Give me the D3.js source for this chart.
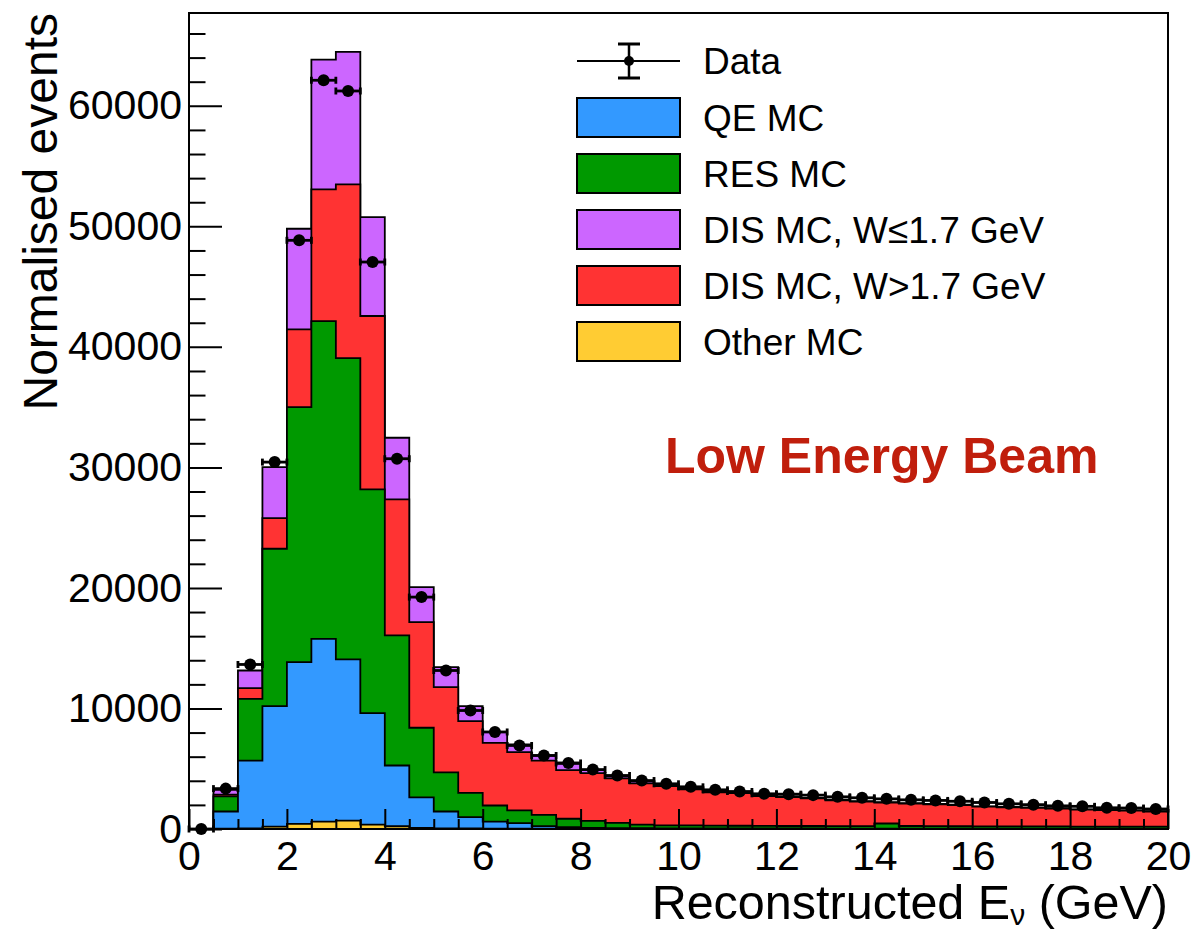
<!DOCTYPE html>
<html>
<head>
<meta charset="utf-8">
<script src="https://cdn.jsdelivr.net/npm/d3@7"></script>
<style>
  html, body { margin: 0; padding: 0; background: #fff; }
  svg { display: block; font-family: "Liberation Sans", Arial, Helvetica, sans-serif; }
</style>
</head>
<body>
<svg id="chart" width="1198" height="933"></svg>
<script>
// ---- Data (bins of 0.5 GeV, lower edges) ----
const binLow = [0,0.5,1,1.5,2,2.5,3,3.5,4,4.5,5,5.5,6,6.5,7,7.5,8,8.5,9,9.5,
                10,10.5,11,11.5,12,12.5,13,13.5,14,14.5,15,15.5,16,16.5,17,17.5,18,18.5,19,19.5];
const binWidth = 0.5;

// Stack components (bottom -> top): Other, QE, RES, DIS W>1.7, DIS W<=1.7
const otherMC = [0,30,50,200,430,620,700,370,230,100,60,40,30,20,15,10,10,10,5,5,
                 5,5,5,5,5,5,5,5,5,5,5,5,5,5,5,5,5,5,5,5];
const qeMC    = [0,1420,5630,9990,13410,15160,13370,9240,5040,2520,1390,940,590,460,215,140,90,70,65,55,
                 50,45,40,40,35,35,30,30,30,30,25,25,25,25,20,20,20,20,20,20];
const resMC   = [0,1250,5120,13060,21160,26360,25000,18560,10790,5780,3240,2020,1330,1060,950,700,580,430,300,240,
                 245,230,225,215,210,210,205,205,420,215,210,200,190,190,185,185,175,175,165,165];
const disHighMC = [0,150,890,2540,6460,10930,14420,14390,11280,8760,7080,5950,5200,4830,4500,4030,3960,3690,3410,3260,
                   3000,2770,2710,2460,2390,2290,2140,2030,1735,1850,1810,1750,1630,1580,1550,1490,1400,1360,1330,1260];
const disLowMC  = [0,400,1460,4240,8340,10760,10980,8210,5120,2910,1660,1240,880,640,420,520,260,170,170,90,
                   90,100,80,70,60,50,50,40,40,40,40,30,30,30,30,30,30,30,30,30];
const dataVals  = [0,3350,13650,30440,48840,62120,61230,47040,30720,19240,13150,9830,8050,6930,6100,5480,4930,4440,4020,3750,
                   3500,3250,3110,2920,2890,2810,2670,2590,2500,2420,2370,2300,2200,2090,2020,1920,1880,1760,1740,1660];

const yMajorTicks = [0,10000,20000,30000,40000,50000,60000];
const xMajorTicks = [0,2,4,6,8,10,12,14,16,18,20];

const seriesNames = ["Other MC","QE MC","RES MC","DIS MC, W>1.7 GeV","DIS MC, W\u22641.7 GeV"];
const seriesVals  = [otherMC, qeMC, resMC, disHighMC, disLowMC];
const seriesColors = ["#FFCC33","#3399FF","#009900","#FF3333","#CC66FF"];

const legendOrder = ["QE MC","RES MC","DIS MC, W\u22641.7 GeV","DIS MC, W>1.7 GeV","Other MC"];

// ---- Layout ----
const svg = d3.select("#chart");
const L = 189, R = 1168, T = 13, B = 829;
const x = d3.scaleLinear().domain([0, 20]).range([L, R]);
const y = d3.scaleLinear().domain([0, 67700]).range([B, T]);

// ---- Stack (cumulative) ----
const cum = [];
seriesVals.forEach((vals, k) => {
  cum.push(vals.map((v, i) => v + (k > 0 ? cum[k-1][i] : 0)));
});

const area = d3.area()
  .x(d => x(d[0]))
  .y0(y(0))
  .y1(d => y(d[1]));

const gHist = svg.append("g");
for (let k = cum.length - 1; k >= 0; k--) {
  const pts = [];
  binLow.forEach((lo, i) => {
    pts.push([lo, cum[k][i]]);
    pts.push([lo + binWidth, cum[k][i]]);
  });
  gHist.append("path")
    .attr("d", area(pts))
    .attr("fill", seriesColors[k])
    .attr("stroke", "#000")
    .attr("stroke-width", 1.8)
    .attr("stroke-linejoin", "miter");
}

// ---- Axes ----
const yMinor = d3.range(0, 67700, 2000).filter(v => v % 10000 !== 0);
const xMinor = d3.range(0, 20.01, 0.5).filter(v => v % 2 !== 0);

const gy = svg.append("g").attr("transform", `translate(${L},0)`)
  .call(d3.axisLeft(y).tickValues(yMajorTicks).tickSizeInner(-33).tickSizeOuter(0).tickPadding(7).tickFormat(d3.format("d")));
const gyMinor = svg.append("g").attr("transform", `translate(${L},0)`)
  .call(d3.axisLeft(y).tickValues(yMinor).tickSizeInner(-16.5).tickSizeOuter(0).tickFormat(""));
const gx = svg.append("g").attr("transform", `translate(0,${B})`)
  .call(d3.axisBottom(x).tickValues(xMajorTicks).tickSizeInner(-20).tickSizeOuter(0).tickPadding(12).tickFormat(d3.format("d")));
const gxMinor = svg.append("g").attr("transform", `translate(0,${B})`)
  .call(d3.axisBottom(x).tickValues(xMinor).tickSizeInner(-10).tickSizeOuter(0).tickFormat(""));

[gy, gyMinor, gx, gxMinor].forEach(g => {
  g.select(".domain").remove();
  g.selectAll(".tick line").attr("stroke", "#000").attr("stroke-width", 2);
  g.selectAll(".tick text").attr("fill", "#000").style("font-size", "41px")
   .style("font-family", "'Liberation Sans', Arial, sans-serif");
});

// frame
svg.append("rect")
  .attr("x", L).attr("y", T).attr("width", R - L).attr("height", B - T)
  .attr("fill", "none").attr("stroke", "#000").attr("stroke-width", 2);

// ---- Data points ----
const gData = svg.append("g");
dataVals.forEach((v, i) => {
  const xl = x(binLow[i]), xr = x(binLow[i] + binWidth), xc = x(binLow[i] + binWidth / 2), yc = y(v);
  gData.append("line").attr("x1", xl).attr("x2", xr).attr("y1", yc).attr("y2", yc)
    .attr("stroke", "#000").attr("stroke-width", 2.8);
  [xl, xr].forEach(xe => {
    gData.append("line").attr("x1", xe).attr("x2", xe).attr("y1", yc - 3.5).attr("y2", yc + 3.5)
      .attr("stroke", "#000").attr("stroke-width", 2.8);
  });
  gData.append("circle").attr("cx", xc).attr("cy", yc).attr("r", 6).attr("fill", "#000");
});

// ---- Axis titles ----
svg.append("text")
  .attr("transform", "translate(57,13) rotate(-90)")
  .attr("text-anchor", "end")
  .style("font-size", "48px")
  .text("Normalised events");

const xt = svg.append("text")
  .attr("x", R).attr("y", 919)
  .attr("text-anchor", "end")
  .style("font-size", "48.5px");
xt.append("tspan").text("Reconstructed E");
xt.append("tspan").attr("dy", 6).style("font-size", "30px").text("\u03bd");
xt.append("tspan").attr("dy", -6).text(" (GeV)");

// ---- Legend ----
const gL = svg.append("g");
const lx0 = 577, lx1 = 680, ltx = 703;
// Data entry
gL.append("line").attr("x1", lx0).attr("x2", lx1).attr("y1", 61).attr("y2", 61)
  .attr("stroke", "#000").attr("stroke-width", 2.2);
gL.append("line").attr("x1", 629).attr("x2", 629).attr("y1", 44).attr("y2", 78)
  .attr("stroke", "#000").attr("stroke-width", 2.5);
[44, 78].forEach(yy => gL.append("line").attr("x1", 618).attr("x2", 640).attr("y1", yy).attr("y2", yy)
  .attr("stroke", "#000").attr("stroke-width", 3));
gL.append("circle").attr("cx", 629).attr("cy", 61).attr("r", 5).attr("fill", "#000");
gL.append("text").attr("x", ltx).attr("y", 74).style("font-size", "37px").text("Data");

legendOrder.forEach((name, j) => {
  const k = seriesNames.indexOf(name);
  const cy = 117.5 + j * 56;
  gL.append("rect").attr("x", lx0).attr("y", cy - 19.5).attr("width", lx1 - lx0).attr("height", 39)
    .attr("fill", seriesColors[k]).attr("stroke", "#000").attr("stroke-width", 2);
  gL.append("text").attr("x", ltx).attr("y", cy + 13).style("font-size", "37px").text(name);
});

// ---- Annotation ----
svg.append("text")
  .attr("x", 665).attr("y", 473)
  .style("font-size", "50px").style("font-weight", "bold")
  .attr("fill", "#C01E0C")
  .text("Low Energy Beam");
</script>
</body>
</html>
